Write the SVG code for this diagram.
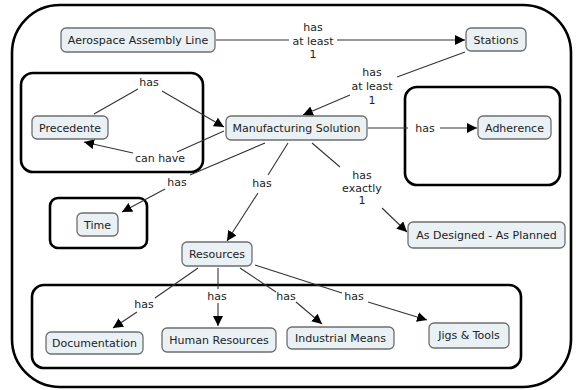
<svg xmlns="http://www.w3.org/2000/svg" width="578" height="390" viewBox="0 0 578 390">
<defs>
<marker id="ah" viewBox="0 0 10 10" refX="10" refY="5" markerWidth="10" markerHeight="10" markerUnits="userSpaceOnUse" orient="auto">
<path d="M0,0 L10,5 L0,10 z" fill="#000"/>
</marker>
<style>
.node rect{fill:#e9f1f4;stroke:#6e6e6e;stroke-width:1.3}
text{font-family:"DejaVu Sans",Verdana,sans-serif;font-size:11px;fill:#222;text-anchor:middle}
.grp{fill:none;stroke:#000;stroke-width:2.6}
.c line,.c path{stroke:#333;stroke-width:1.1;fill:none}
.a{marker-end:url(#ah)}
</style>
</defs>
<rect width="578" height="390" fill="#fff"/>
<rect x="12" y="5" width="559" height="382" rx="48" class="grp"/>
<rect x="21" y="73" width="182" height="99" rx="12" class="grp"/>
<rect x="405" y="87" width="155" height="98" rx="12" class="grp"/>
<rect x="50" y="198" width="97" height="50" rx="8" class="grp"/>
<rect x="32" y="285" width="489" height="83" rx="12" class="grp"/>

<g class="c" id="connectors">
<line x1="216" y1="40" x2="289" y2="40"/><line x1="337" y1="40" x2="465" y2="40" class="a"/>
<line x1="465" y1="52" x2="397" y2="77"/><line x1="350" y1="95" x2="303" y2="115" class="a"/>
<line x1="368" y1="128" x2="408" y2="128"/><line x1="440" y1="128" x2="477" y2="128" class="a"/>
<line x1="94" y1="114" x2="138" y2="89"/><line x1="162" y1="91" x2="224" y2="127" class="a"/>
<line x1="224" y1="131" x2="177" y2="152"/><line x1="133" y1="153" x2="84" y2="142" class="a"/>
<line x1="265" y1="143" x2="190" y2="175"/><line x1="165" y1="189" x2="122" y2="212" class="a"/>
<line x1="288" y1="143" x2="268" y2="175"/><line x1="258" y1="193" x2="227" y2="241" class="a"/>
<line x1="312" y1="143" x2="340" y2="167"/><line x1="382" y1="208" x2="407" y2="232" class="a"/>
<line x1="198" y1="268" x2="155" y2="298"/><line x1="137" y1="312" x2="113" y2="328" class="a"/>
<line x1="218" y1="268" x2="218" y2="289"/><line x1="218" y1="303" x2="218" y2="326" class="a"/>
<line x1="240" y1="268" x2="276" y2="292"/><line x1="296" y1="302" x2="322" y2="324" class="a"/>
<line x1="255" y1="265" x2="342" y2="293"/><line x1="368" y1="302" x2="427" y2="320" class="a"/>
</g>

<g id="labels">
<text x="313" y="31">has</text><text x="313" y="45">at least</text><text x="313" y="58">1</text>
<text x="372" y="76">has</text><text x="372" y="90">at least</text><text x="372" y="104">1</text>
<text x="425" y="132">has</text>
<text x="149" y="86">has</text>
<text x="160" y="162">can have</text>
<text x="177" y="186">has</text>
<text x="262" y="187">has</text>
<text x="362" y="179">has</text><text x="362" y="192">exactly</text><text x="362" y="204">1</text>
<text x="144" y="308">has</text>
<text x="217" y="300">has</text>
<text x="286" y="300">has</text>
<text x="354" y="300">has</text>
</g>

<g class="node" id="aerospace"><rect x="61" y="28" width="154" height="24" rx="5"/><text x="138" y="44">Aerospace Assembly Line</text></g>
<g class="node" id="stations"><rect x="466" y="28" width="60" height="23" rx="5"/><text x="496" y="44">Stations</text></g>
<g class="node" id="manufacturing"><rect x="226" y="116" width="141" height="24" rx="5"/><text x="296.5" y="132">Manufacturing Solution</text></g>
<g class="node" id="precedente"><rect x="32" y="116" width="76" height="23" rx="5"/><text x="70" y="132">Precedente</text></g>
<g class="node" id="adherence"><rect x="478" y="116" width="73" height="23" rx="5"/><text x="514.5" y="132">Adherence</text></g>
<g class="node" id="time"><rect x="77" y="213" width="41" height="23" rx="5"/><text x="97.5" y="229">Time</text></g>
<g class="node" id="asdesigned"><rect x="408" y="222" width="157" height="26" rx="5"/><text x="486.5" y="239">As Designed - As Planned</text></g>
<g class="node" id="resources"><rect x="182" y="242" width="70" height="24" rx="5"/><text x="217" y="258">Resources</text></g>
<g class="node" id="documentation"><rect x="46" y="332" width="97" height="22" rx="5"/><text x="94.5" y="347">Documentation</text></g>
<g class="node" id="human"><rect x="162" y="328" width="114" height="24" rx="5"/><text x="219" y="344">Human Resources</text></g>
<g class="node" id="industrial"><rect x="287" y="327" width="107" height="22" rx="5"/><text x="340.5" y="342">Industrial Means</text></g>
<g class="node" id="jigs"><rect x="429" y="323" width="80" height="25" rx="5"/><text x="469" y="339">Jigs &amp; Tools</text></g>
</svg>
